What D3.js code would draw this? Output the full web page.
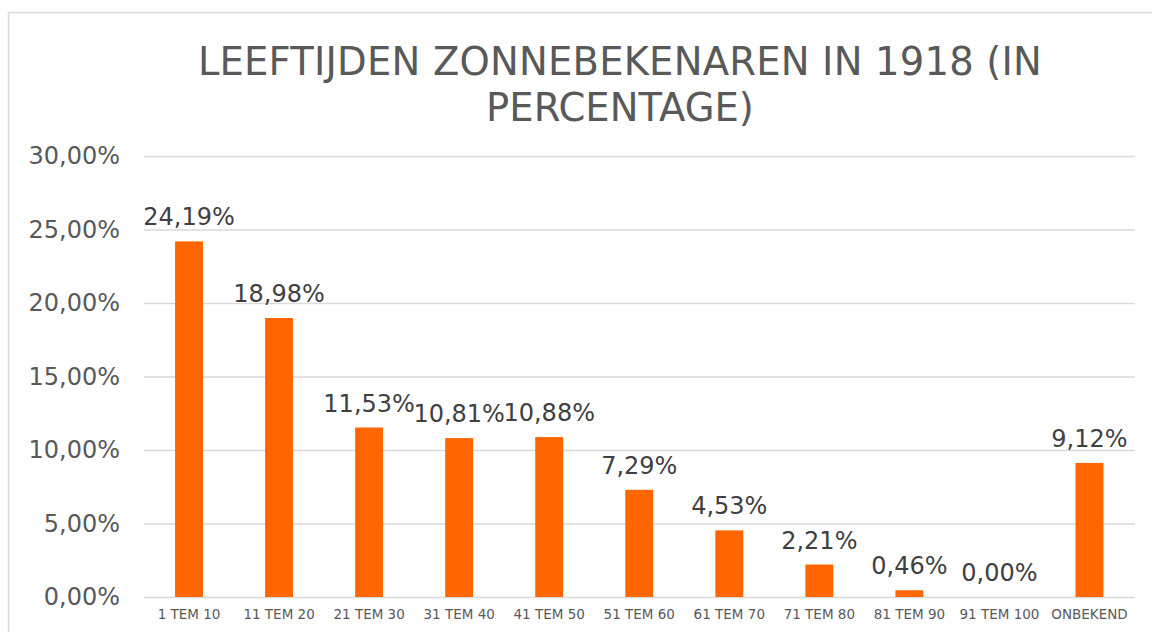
<!DOCTYPE html>
<html>
<head>
<meta charset="utf-8">
<script src="https://cdn.jsdelivr.net/npm/d3@7"></script>
<style>
  body { margin: 0; background: #fff; }
  svg { display: block; font-family: "DejaVu Sans", Verdana, sans-serif; }
</style>
</head>
<body>
<svg id="chart" width="1152" height="632"></svg>
<script>
// data
const categories = ["1 TEM 10", "11 TEM 20", "21 TEM 30", "31 TEM 40", "41 TEM 50",
  "51 TEM 60", "61 TEM 70", "71 TEM 80", "81 TEM 90", "91 TEM 100", "ONBEKEND"];
const percentages = [24.19, 18.98, 11.53, 10.81, 10.88, 7.29, 4.53, 2.21, 0.46, 0.00, 9.12];
const yTicks = [0, 5, 10, 15, 20, 25, 30];
const titleLines = ["LEEFTIJDEN ZONNEBEKENAREN IN 1918 (IN", "PERCENTAGE)"];

const svg = d3.select("#chart");

// rand rond de grafiek
svg.append("rect")
  .attr("x", 8.5).attr("y", 12.5)
  .attr("width", 1200).attr("height", 700)
  .attr("fill", "none")
  .attr("stroke", "#d9d9d9")
  .attr("stroke-width", 1.5);

const x = d3.scaleBand()
  .domain(categories)
  .range([144, 1134.5])
  .paddingInner(0.69)
  .paddingOuter(0.345);

const y = d3.scaleLinear()
  .domain([0, 30])
  .range([597, 156]);

const fmt = v => d3.format(".2f")(v).replace(".", ",") + "%";

// titel
svg.append("g").selectAll("text")
  .data(titleLines)
  .join("text")
  .attr("x", 620)
  .attr("y", (d, i) => 75 + i * 46)
  .attr("text-anchor", "middle")
  .attr("fill", "#595959")
  .style("font-size", "38.5px")
  .style("letter-spacing", (d, i) => i == 0 ? "0.2px" : "0px")
  .text(d => d);

// rasterlijnen + y labels
const yAxis = svg.append("g")
  .attr("transform", "translate(144,0)")
  .call(d3.axisLeft(y).tickValues(yTicks).tickSize(-990.5).tickPadding(24).tickFormat(fmt));
yAxis.select(".domain").remove();
yAxis.selectAll(".tick line").attr("stroke", "#d9d9d9").attr("stroke-width", 1.5);
yAxis.selectAll(".tick text")
  .attr("fill", "#595959")
  .style("font-size", "24px")
  .style("font-family", "DejaVu Sans, Verdana, sans-serif");

// x labels
const xAxis = svg.append("g")
  .attr("transform", "translate(0,597)")
  .call(d3.axisBottom(x).tickSize(0).tickPadding(12));
xAxis.select(".domain").remove();
xAxis.selectAll(".tick text")
  .attr("fill", "#595959")
  .style("font-size", "13.5px")
  .style("font-family", "DejaVu Sans, Verdana, sans-serif");

// staven
svg.append("g").selectAll("rect")
  .data(percentages)
  .join("rect")
  .attr("x", (d, i) => x(categories[i]))
  .attr("y", d => y(d))
  .attr("width", x.bandwidth())
  .attr("height", d => y(0) - y(d))
  .attr("fill", "#ff6600");

// waardelabels
svg.append("g").selectAll("text")
  .data(percentages)
  .join("text")
  .attr("x", (d, i) => x(categories[i]) + x.bandwidth() / 2)
  .attr("y", d => y(d) - 16)
  .attr("text-anchor", "middle")
  .attr("fill", "#404040")
  .style("font-size", "24px")
  .text(d => fmt(d));
</script>
</body>
</html>
